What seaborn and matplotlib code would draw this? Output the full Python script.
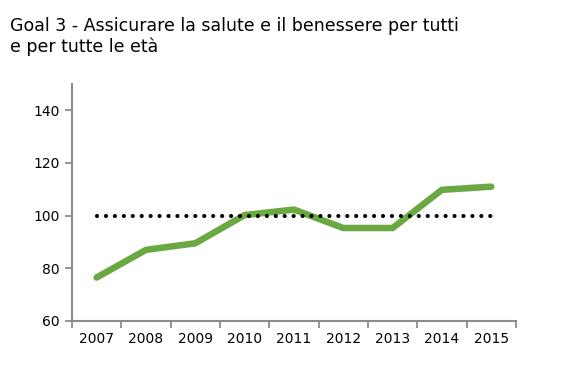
import matplotlib
matplotlib.use("Agg")
import matplotlib.pyplot as plt
import seaborn as sns
import pandas as pd
import numpy as np
from matplotlib.ticker import FixedLocator

years = ["2007", "2008", "2009", "2010", "2011", "2012", "2013", "2014", "2015"]
values = [76.5, 87.0, 89.5, 100.2, 102.3, 95.3, 95.3, 109.8, 111.0]
reference = [100] * len(years)
yticks = [60, 80, 100, 120, 140]

sns.set_style("white")
plt.rcParams['font.family'] = ['DejaVu Sans']
plt.rcParams['text.color'] = 'black'
plt.rcParams['xtick.labelcolor'] = 'black'
plt.rcParams['ytick.labelcolor'] = 'black'

df = pd.DataFrame({"pos": np.arange(len(years)), "year": years, "value": values, "ref": reference})

fig = plt.figure(figsize=(5.62, 3.88), dpi=100)
ax = fig.add_axes([0.128, 0.1727, 0.79, 0.611])

sns.lineplot(data=df, x="pos", y="value", ax=ax, color="#6aa842", linewidth=4.7,
             solid_capstyle="round", solid_joinstyle="round", zorder=2)
sns.lineplot(data=df, x="pos", y="ref", ax=ax, color="black", linewidth=3.0,
             linestyle=(0, (0.01, 2.135)), zorder=3)
ax.lines[-1].set_dash_capstyle("round")

ax.set_xlim(-0.5, len(years) - 0.5)
ax.set_ylim(60, 150)
ax.set_yticks(yticks)
ax.set_xticks(df["pos"])
ax.set_xticklabels(years)
ax.xaxis.set_minor_locator(FixedLocator(np.arange(-0.5, len(years), 1.0)))
ax.tick_params(axis="x", which="major", length=0, labelsize=10, pad=8, labelcolor="black")
ax.tick_params(axis="x", which="minor", length=5, width=1.3, color="#8c8c8c", direction="out", bottom=True)
ax.tick_params(axis="y", length=5, width=1.3, color="#8c8c8c", direction="out", left=True,
               labelsize=10, pad=4, labelcolor="black")
ax.set_xlabel("")
ax.set_ylabel("")
for s in ["top", "right"]:
    ax.spines[s].set_visible(False)
for s in ["left", "bottom"]:
    ax.spines[s].set_color("#8c8c8c")
    ax.spines[s].set_linewidth(1.5)

fig.text(0.018, 0.955, "Goal 3 - Assicurare la salute e il benessere per tutti\ne per tutte le età",
         fontsize=12.5, va="top", ha="left", linespacing=1.15, color="black")

fig.savefig("out.png", dpi=100)
